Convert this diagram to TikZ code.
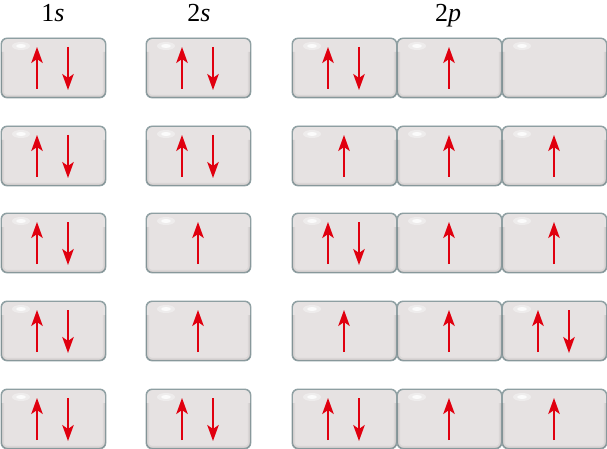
\documentclass[tikz,border=0pt]{standalone}
\usepackage{fontspec}
\newfontfamily\lblfont{Liberation Serif}
\usetikzlibrary{arrows.meta,calc}
\definecolor{boxmain}{HTML}{E6E2E2}
\definecolor{boxtop}{HTML}{E9E6E6}
\definecolor{boxbot}{HTML}{BEBABA}
\definecolor{boxedge}{HTML}{8E9FA2}
\definecolor{spinred}{HTML}{E0000F}
\pgfdeclareverticalshading{boxsh}{100bp}{color(0bp)=(boxbot); color(5bp)=(boxbot!55!boxmain); color(16bp)=(boxmain); color(90bp)=(boxmain); color(100bp)=(boxtop)}
\tikzset{
  orb/.style={shading=boxsh, draw=boxedge, line width=0.9pt, rounded corners=6pt,
    minimum width=104pt, minimum height=59pt, anchor=north west, inner sep=0pt},
  bevel/.style={draw=black, rounded corners=6pt},
  spin/.style={draw=spinred, line width=2pt, -{Stealth[length=16pt,width=11.5pt,inset=4pt]}},
  lbl/.style={anchor=base, inner sep=0pt, font=\lblfont\fontsize{26}{30}\selectfont}
}
\begin{document}
\begin{tikzpicture}[x=1pt,y=-1pt]
\useasboundingbox (0,0) rectangle (607,449);
\node[lbl] (l1) at (53,22) {1\textit{s}};
\node[lbl] (l2) at (199,22) {2\textit{s}};
\node[lbl] (l3) at (448,22) {2\textit{p}};
% rows: top, then codes for 5 columns (2 = pair, 1 = up, 0 = empty)
\foreach \r/\T/\a/\b/\c/\d/\e in {1/38/2/2/2/1/0, 2/126/2/2/1/1/1, 3/213/2/1/2/1/1, 4/301/2/1/1/1/2, 5/389/2/2/2/1/1}{
  \foreach \col/\L/\k in {1/1/\a, 2/146/\b, 3/292/\c, 4/397/\d, 5/502/\e}{
    \node[orb] (b\r\col) at (\L,\T) {};
    \begin{scope}
      \clip[rounded corners=6pt] (b\r\col.north west) rectangle (b\r\col.south east);
      \draw[bevel, line width=6pt, opacity=0.05] ($(b\r\col.north west)+(0,14)$) |- (b\r\col.south east) -- ($(b\r\col.north east)+(0,14)$);
      \draw[bevel, line width=3pt, opacity=0.06] ($(b\r\col.north west)+(0,14)$) |- (b\r\col.south east) -- ($(b\r\col.north east)+(0,14)$);
    \end{scope}
    \draw[draw=boxedge, line width=0.9pt, rounded corners=6pt] (b\r\col.north west) rectangle (b\r\col.south east);
    \fill[white, opacity=0.35] ($(b\r\col.north west)+(20,8)$) ellipse [x radius=9, y radius=4];
    \fill[white, opacity=0.8] ($(b\r\col.north west)+(20,8)$) ellipse [x radius=5, y radius=2];
    \ifnum\k=2
      \coordinate (ub\r\col) at ($(b\r\col.north west)+(36,51)$);
      \coordinate (ut\r\col) at ($(b\r\col.north west)+(36,9)$);
      \coordinate (dt\r\col) at ($(b\r\col.north west)+(67,9)$);
      \coordinate (db\r\col) at ($(b\r\col.north west)+(67,52)$);
      \draw[spin] (ub\r\col) -- (ut\r\col);
      \draw[spin] (dt\r\col) -- (db\r\col);
    \fi
    \ifnum\k=1
      \coordinate (ub\r\col) at ($(b\r\col.north west)+(52,51)$);
      \coordinate (ut\r\col) at ($(b\r\col.north west)+(52,9)$);
      \draw[spin] (ub\r\col) -- (ut\r\col);
    \fi
  }
}
\end{tikzpicture}
\end{document}
